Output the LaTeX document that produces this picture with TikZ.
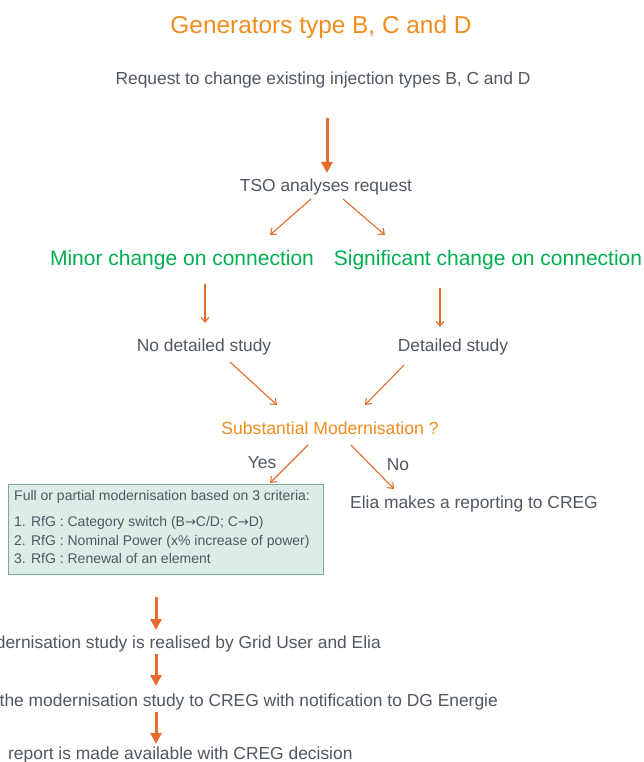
\documentclass[tikz,border=0pt]{standalone}
\usepackage{fontspec}
\setmainfont{Liberation Sans}
\newfontfamily\arrfont{DejaVu Sans}
\usetikzlibrary{arrows.meta}
\definecolor{txt}{RGB}{80,88,98}
\definecolor{ttl}{RGB}{242,140,30}
\definecolor{arr}{RGB}{228,108,45}
\definecolor{grn}{RGB}{0,176,80}
\definecolor{boxfill}{RGB}{222,236,232}
\definecolor{boxline}{RGB}{120,170,150}
\newcommand{\rarr}{{\arrfont\fontsize{13}{14}\selectfont →}}
\begin{document}
\begin{tikzpicture}[x=1pt,y=-1pt,
  lbl/.style={inner sep=0pt, text=txt, font=\fontsize{17.4}{20}\selectfont},
  grnlbl/.style={inner sep=0pt, text=grn, font=\fontsize{21}{24}\selectfont},
  bigarr/.style={draw=arr, line width=3pt, -{Triangle[length=11pt,width=11pt]}},
  thinarr/.style={draw=arr, line width=1.1pt, -{Straight Barb[length=5pt,width=8pt]}}]
\useasboundingbox (0,0) rectangle (643,762);
\clip (0,0) rectangle (643,762);
\fill[white] (0,0) rectangle (643,762);

\node[inner sep=0pt, text=ttl, font=\fontsize{24.4}{28}\selectfont] (title) at (321,27) {Generators type B, C and D};
\node[lbl] (req) at (323,80) {Request to change existing injection types B, C and D};
\node[lbl] (tso) at (326,187) {TSO analyses request};
\node[grnlbl] (minor) at (182,260) {Minor change on connection};
\node[grnlbl] (sig) at (488,260) {Significant change on connection};
\node[lbl] (nods) at (204,347) {No detailed study};
\node[lbl] (ds) at (453,347) {Detailed study};
\node[inner sep=0pt, text=ttl, font=\fontsize{17.6}{20}\selectfont] (subm) at (330,428) {Substantial Modernisation ?};
\node[lbl] (yes) at (262,463) {Yes};
\node[lbl] (no) at (398,465) {No};
\node[draw=boxline, line width=1pt, fill=boxfill, minimum width=315pt, minimum height=90pt, inner sep=0pt] (box) at (165.5,529) {};
\node[inner sep=0pt, anchor=north west, text=txt, align=left, font=\fontsize{14}{18.5}\selectfont] (crit) at (14,490)
  {Full or partial modernisation based on 3 criteria:\\[8pt]
   1. RfG : Category switch (B\rarr C/D; C\rarr D)\\
   2. RfG : Nominal Power (x\% increase of power)\\
   3. RfG : Renewal of an element};
\node[lbl] (elia) at (474,504) {Elia makes a reporting to CREG};
\node[lbl, anchor=east] (study) at (381,644) {dernisation study is realised by Grid User and Elia};
\node[lbl, anchor=east] (send) at (498,702) {the modernisation study to CREG with notification to DG Energie};
\node[lbl, anchor=west] (rep) at (8,755) {report is made available with CREG decision};

\coordinate (a1) at (327,118); \coordinate (b1) at (327,173);
\coordinate (a2) at (311,199); \coordinate (b2) at (270,235);
\coordinate (a3) at (343,199); \coordinate (b3) at (385,235);
\coordinate (a4) at (205,284); \coordinate (b4) at (205,323);
\coordinate (a5) at (440,288); \coordinate (b5) at (440,327);
\coordinate (a6) at (230,362); \coordinate (b6) at (277,405);
\coordinate (a7) at (404,365); \coordinate (b7) at (365,405);
\coordinate (a8) at (308,445); \coordinate (b8) at (270,483);
\coordinate (a9) at (351,445); \coordinate (b9) at (394,489);
\coordinate (a10) at (156,597); \coordinate (b10) at (156,630);
\coordinate (a11) at (156,654); \coordinate (b11) at (156,686);
\coordinate (a12) at (156,712); \coordinate (b12) at (156,744);

\draw[bigarr] (a1) -- (b1);
\draw[thinarr] (a2) -- (b2);
\draw[thinarr] (a3) -- (b3);
\draw[thinarr] (a4) -- (b4);
\draw[thinarr] (a5) -- (b5);
\draw[thinarr] (a6) -- (b6);
\draw[thinarr] (a7) -- (b7);
\draw[thinarr] (a8) -- (b8);
\draw[thinarr] (a9) -- (b9);
\draw[bigarr] (a10) -- (b10);
\draw[bigarr] (a11) -- (b11);
\draw[bigarr] (a12) -- (b12);
\end{tikzpicture}
\end{document}
